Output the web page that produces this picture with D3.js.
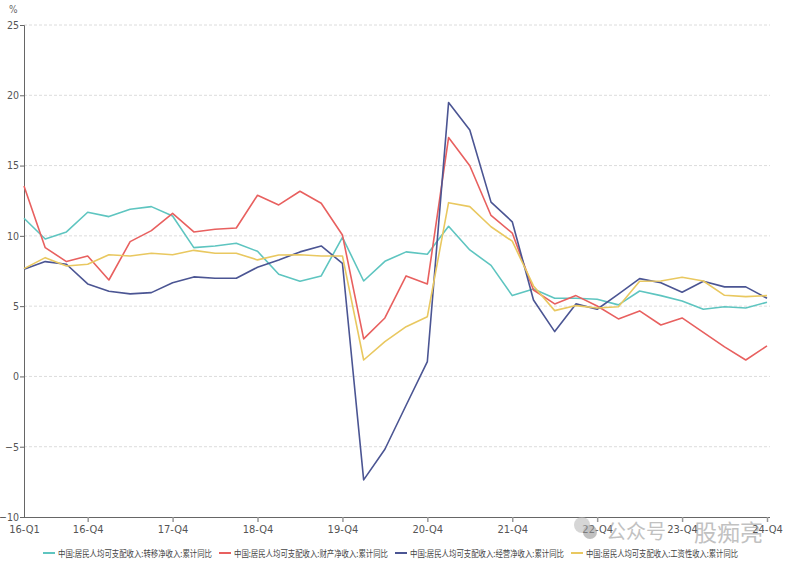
<!DOCTYPE html>
<html><head><meta charset="utf-8">
<script src="https://cdn.jsdelivr.net/npm/d3@7/dist/d3.min.js"></script>
<style>body{margin:0;background:#fff;} svg{display:block;}</style>
</head><body>
<svg id="c" width="785" height="564"></svg>
<script>
const quarters = [];
for (let y = 16; y <= 24; y++) for (let q = 1; q <= 4; q++) quarters.push(y + "-Q" + q);
const tickLabels = ["16-Q1","16-Q4","17-Q4","18-Q4","19-Q4","20-Q4","21-Q4","22-Q4","23-Q4","24-Q4"];
const yTicks = [-10,-5,0,5,10,15,20,25];
const seriesNames = ["中国:居民人均可支配收入:转移净收入:累计同比","中国:居民人均可支配收入:财产净收入:累计同比","中国:居民人均可支配收入:经营净收入:累计同比","中国:居民人均可支配收入:工资性收入:累计同比"];
const transfer = [11.25,9.78,10.28,11.68,11.37,11.89,12.08,11.41,9.16,9.28,9.47,8.9,7.27,6.77,7.15,9.9,6.79,8.19,8.86,8.69,10.68,9.0,7.9,5.75,6.22,5.56,5.56,5.49,5.09,6.08,5.75,5.37,4.78,4.96,4.87,5.28];
const property = [13.55,9.16,8.17,8.57,6.86,9.59,10.37,11.6,10.28,10.47,10.56,12.89,12.2,13.17,12.32,10.06,2.67,4.16,7.15,6.58,16.99,14.99,11.45,10.2,6.15,5.16,5.75,5.01,4.09,4.66,3.66,4.16,3.14,2.1,1.17,2.17];
const business = [7.62,8.17,7.98,6.58,6.06,5.87,5.96,6.67,7.08,6.98,6.98,7.77,8.29,8.86,9.28,8.05,-7.36,-5.18,-2.05,1.06,19.48,17.53,12.4,11.0,5.44,3.19,5.16,4.78,5.85,6.96,6.67,5.99,6.77,6.37,6.37,5.56];
const wage = [7.67,8.45,7.86,7.98,8.66,8.57,8.76,8.66,8.97,8.76,8.76,8.29,8.64,8.66,8.57,8.57,1.17,2.48,3.54,4.25,12.36,12.08,10.65,9.62,6.44,4.68,5.04,4.87,4.96,6.77,6.79,7.05,6.79,5.77,5.68,5.75];
const seriesValues = [transfer, property, business, wage];
const colors = ["#5ec5c0","#e8605f","#4b5593","#e9c860"];

const svg = d3.select("#c");
const font = "'Liberation Sans Narrow','DejaVu Sans Condensed','Noto Sans CJK SC',sans-serif";
const L = 24, R = 767, T = 25, B = 517;
const x = d3.scalePoint().domain(quarters).range([L, R]);
const y = d3.scaleLinear().domain([-10, 25]).range([B, T]);

// grid
svg.append("g").selectAll("line").data(yTicks.filter(d => d > -10)).join("line")
  .attr("x1", L).attr("x2", 770).attr("y1", d => y(d)).attr("y2", d => y(d))
  .attr("stroke", "#dcdcdc").attr("stroke-dasharray", "3,2").attr("stroke-width", 1);

// y axis
const ya = svg.append("g").attr("transform", `translate(${L},0)`)
  .call(d3.axisLeft(y).tickValues(yTicks).tickSize(4).tickPadding(1));
ya.select(".domain").attr("stroke", "#666");
ya.selectAll(".tick line").attr("stroke", "#666");
ya.selectAll("text").attr("font-family", font).attr("font-size", 10.5).attr("fill", "#555");

svg.append("text").attr("x", 9).attr("y", 13).text("%")
  .attr("font-family", font).attr("font-size", 10).attr("fill", "#666");

// x axis
const xa = svg.append("g").attr("transform", `translate(0,${B})`)
  .call(d3.axisBottom(x).tickValues(tickLabels).tickSize(5).tickPadding(3).tickSizeOuter(0));
xa.select(".domain").attr("stroke", "#666").attr("d", `M${L},0.5H770`);
xa.selectAll(".tick line").attr("stroke", "#999").attr("stroke-width", 1.5);
xa.selectAll(".tick").filter(d => d === "16-Q1").select("line").remove();
xa.selectAll("text").attr("font-family", font).attr("font-size", 11).attr("fill", "#555");

// lines
const line = d3.line().x((d, i) => x(quarters[i])).y(d => y(d));
svg.append("g").selectAll("path").data(seriesValues).join("path")
  .attr("d", line).attr("fill", "none")
  .attr("stroke", (d, i) => colors[i]).attr("stroke-width", 1.6)
  .attr("stroke-linejoin", "round");

// watermark
const wm = svg.append("g").attr("opacity", 0.6);
wm.append("circle").attr("cx", 582).attr("cy", 525).attr("r", 8).attr("fill", "#bbb");
wm.append("circle").attr("cx", 590).attr("cy", 532).attr("r", 7).attr("fill", "#999");
wm.append("text").attr("x", 606).attr("y", 539).text("公众号")
  .attr("font-family", "'Noto Sans CJK SC'").attr("font-size", 20).attr("fill", "#999");
wm.append("text").attr("x", 694).attr("y", 541).text("股痴亮")
  .attr("font-family", "'Noto Sans CJK SC'").attr("font-size", 23).attr("fill", "#999");

// legend
const legX = [43, 219, 395, 571];
const lg = svg.append("g").selectAll("g").data(seriesNames).join("g")
  .attr("transform", (d, i) => `translate(${legX[i]},553)`);
lg.append("line").attr("x1", 0).attr("x2", 12).attr("y1", 0).attr("y2", 0)
  .attr("stroke", (d, i) => colors[i]).attr("stroke-width", 2);
lg.append("text").attr("x", 15).attr("y", 3.5).text(d => d)
  .attr("textLength", (d, i) => i === 3 ? 152 : 154).attr("lengthAdjust", "spacingAndGlyphs")
  .attr("font-family", "'Noto Sans CJK SC',sans-serif").attr("font-size", 9).attr("fill", "#444");
</script>
</body></html>
